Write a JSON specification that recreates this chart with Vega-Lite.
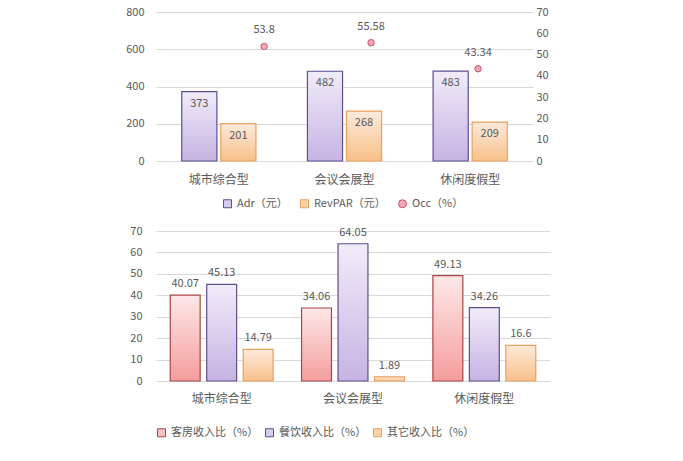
{
  "$schema": "https://vega.github.io/schema/vega-lite/v6.json",
  "background": "white",
  "padding": {"left": 125, "top": 6, "right": 10, "bottom": 5},
  "spacing": 15,
  "resolve": {
    "scale": {"color": "independent", "xOffset": "independent", "x": "independent"},
    "legend": {"color": "independent"}
  },
  "datasets": {
    "hotel": [
      {"type": "城市综合型", "series": "Adr（元）", "value": 373},
      {"type": "城市综合型", "series": "RevPAR（元）", "value": 201},
      {"type": "城市综合型", "series": "Occ（%）", "value": 53.8},
      {"type": "会议会展型", "series": "Adr（元）", "value": 482},
      {"type": "会议会展型", "series": "RevPAR（元）", "value": 268},
      {"type": "会议会展型", "series": "Occ（%）", "value": 55.58},
      {"type": "休闲度假型", "series": "Adr（元）", "value": 483},
      {"type": "休闲度假型", "series": "RevPAR（元）", "value": 209},
      {"type": "休闲度假型", "series": "Occ（%）", "value": 43.34}
    ],
    "income": [
      {"type": "城市综合型", "series": "客房收入比（%）", "value": 40.07},
      {"type": "城市综合型", "series": "餐饮收入比（%）", "value": 45.13},
      {"type": "城市综合型", "series": "其它收入比（%）", "value": 14.79},
      {"type": "会议会展型", "series": "客房收入比（%）", "value": 34.06},
      {"type": "会议会展型", "series": "餐饮收入比（%）", "value": 64.05},
      {"type": "会议会展型", "series": "其它收入比（%）", "value": 1.89},
      {"type": "休闲度假型", "series": "客房收入比（%）", "value": 49.13},
      {"type": "休闲度假型", "series": "餐饮收入比（%）", "value": 34.26},
      {"type": "休闲度假型", "series": "其它收入比（%）", "value": 16.6}
    ]
  },
  "vconcat": [
    {
      "width": 377,
      "height": 149,
      "data": {"name": "hotel"},
      "layer": [
        {
          "transform": [{"filter": "datum.series !== 'Occ（%）'"}],
          "layer": [
            {
              "mark": {"type": "bar"},
              "encoding": {
                "x": {
                  "field": "type", "type": "nominal",
                  "sort": ["城市综合型", "会议会展型", "休闲度假型"],
                  "scale": {"paddingInner": 0, "paddingOuter": 0},
                  "axis": {"title": null, "labelAngle": 0, "ticks": false, "labelPadding": 13, "labelFontSize": 12, "domainColor": "#d9d9d9"}
                },
                "xOffset": {
                  "field": "series", "type": "nominal",
                  "sort": ["Adr（元）", "RevPAR（元）"],
                  "scale": {"paddingInner": 0.1, "paddingOuter": 0.66}
                },
                "y": {
                  "field": "value", "type": "quantitative",
                  "scale": {"domain": [0, 800], "nice": false},
                  "axis": {"title": null, "values": [0, 200, 400, 600, 800], "tickCount": 5, "labelOverlap": false, "ticks": false, "domain": false, "labelPadding": 12, "gridColor": "#d9d9d9"}
                },
                "color": {
                  "field": "series", "type": "nominal",
                  "scale": {"domain": ["Adr（元）", "RevPAR（元）", "Occ（%）"], "range": ["#d8ccee", "#fbd3ab", "#f2a7b5"]},
                  "legend": {
                    "title": null, "orient": "none", "legendX": 66, "legendY": 186, "direction": "horizontal",
                    "symbolSize": 64, "columnPadding": 10, "symbolStrokeWidth": 1,
                    "encode": {
                      "symbols": {
                        "update": {
                          "shape": {"signal": "datum.value === 'Occ（%）' ? 'circle' : 'square'"},
                          "stroke": {"signal": "datum.value === 'Adr（元）' ? '#5f4f8f' : datum.value === 'RevPAR（元）' ? '#e9a15e' : '#c4566d'"}
                        }
                      }
                    }
                  }
                }
              }
            },
            {
              "mark": {"type": "bar", "strokeWidth": 1.2},
              "encoding": {
                "x": {"field": "type", "type": "nominal", "sort": ["城市综合型", "会议会展型", "休闲度假型"]},
                "xOffset": {"field": "series", "type": "nominal", "sort": ["Adr（元）", "RevPAR（元）"]},
                "y": {"field": "value", "type": "quantitative", "axis": {"title": null, "values": [0, 200, 400, 600, 800], "tickCount": 5, "labelOverlap": false, "ticks": false, "domain": false, "labelPadding": 12, "gridColor": "#d9d9d9"}},
                "fill": {
                  "condition": {
                    "test": "datum.series === 'Adr（元）'",
                    "value": {"gradient": "linear", "x1": 0, "y1": 0, "x2": 0, "y2": 1, "stops": [{"offset": 0, "color": "#f1ecf9"}, {"offset": 1, "color": "#c6b3e3"}]}
                  },
                  "value": {"gradient": "linear", "x1": 0, "y1": 0, "x2": 0, "y2": 1, "stops": [{"offset": 0, "color": "#fdeadb"}, {"offset": 1, "color": "#f8c08a"}]}
                },
                "stroke": {
                  "condition": {"test": "datum.series === 'Adr（元）'", "value": "#5f4f8f"},
                  "value": "#e9a15e"
                }
              }
            },
            {
              "mark": {"type": "text", "baseline": "top", "dy": 6, "fontSize": 11, "color": "#595959"},
              "encoding": {
                "x": {"field": "type", "type": "nominal", "sort": ["城市综合型", "会议会展型", "休闲度假型"]},
                "xOffset": {"field": "series", "type": "nominal", "sort": ["Adr（元）", "RevPAR（元）"]},
                "y": {"field": "value", "type": "quantitative", "axis": {"title": null, "values": [0, 200, 400, 600, 800], "tickCount": 5, "labelOverlap": false, "ticks": false, "domain": false, "labelPadding": 12, "gridColor": "#d9d9d9"}},
                "text": {"field": "value", "type": "nominal"}
              }
            }
          ]
        },
        {
          "transform": [{"filter": "datum.series === 'Occ（%）'"}],
          "layer": [
            {
              "mark": {"type": "point", "filled": true, "size": 42, "stroke": "#c4566d", "strokeWidth": 1, "opacity": 1},
              "encoding": {
                "x": {
                  "field": "type", "type": "nominal", "sort": ["城市综合型", "会议会展型", "休闲度假型"],
                  "scale": {"type": "point", "padding": 0.762, "align": 0.663},
                  "axis": null
                },
                "y": {
                  "field": "value", "type": "quantitative",
                  "scale": {"domain": [0, 70], "nice": false},
                  "axis": {"title": null, "orient": "right", "values": [0, 10, 20, 30, 40, 50, 60, 70], "tickCount": 8, "labelOverlap": false, "grid": false, "ticks": false, "domain": false, "labelPadding": 3}
                },
                "color": {"field": "series", "type": "nominal"}
              }
            },
            {
              "mark": {"type": "text", "baseline": "bottom", "dy": -11, "fontSize": 11, "color": "#595959"},
              "encoding": {
                "x": {"field": "type", "type": "nominal", "sort": ["城市综合型", "会议会展型", "休闲度假型"], "axis": null},
                "y": {"field": "value", "type": "quantitative", "axis": {"title": null, "orient": "right", "values": [0, 10, 20, 30, 40, 50, 60, 70], "tickCount": 8, "labelOverlap": false, "grid": false, "ticks": false, "domain": false, "labelPadding": 3}},
                "text": {"field": "value", "type": "nominal"}
              }
            }
          ]
        }
      ],
      "resolve": {"scale": {"y": "independent", "x": "independent"}}
    },
    {
      "width": 394,
      "height": 150,
      "data": {"name": "income"},
      "layer": [
        {
          "mark": {"type": "bar"},
          "encoding": {
            "x": {
              "field": "type", "type": "nominal",
              "sort": ["城市综合型", "会议会展型", "休闲度假型"],
              "scale": {"paddingInner": 0, "paddingOuter": 0},
              "axis": {"title": null, "labelAngle": 0, "ticks": false, "labelPadding": 12, "labelFontSize": 12, "domainColor": "#d9d9d9"}
            },
            "xOffset": {
              "field": "series", "type": "nominal",
              "sort": ["客房收入比（%）", "餐饮收入比（%）", "其它收入比（%）"],
              "scale": {"paddingInner": 0.18, "paddingOuter": 0.39}
            },
            "y": {
              "field": "value", "type": "quantitative",
              "scale": {"domain": [0, 70], "nice": false},
              "axis": {"title": null, "values": [0, 10, 20, 30, 40, 50, 60, 70], "tickCount": 8, "labelOverlap": false, "ticks": false, "domain": false, "labelPadding": 14, "gridColor": "#d9d9d9"}
            },
            "color": {
              "field": "series", "type": "nominal",
              "scale": {"domain": ["客房收入比（%）", "餐饮收入比（%）", "其它收入比（%）"], "range": ["#f7c4c4", "#d8ccee", "#fbd3ab"]},
              "legend": {
                "title": null, "orient": "bottom", "direction": "horizontal", "offset": 23,
                "symbolSize": 64, "columnPadding": 4, "symbolType": "square", "symbolStrokeWidth": 1, "labelFontSize": 11,
                "encode": {
                  "symbols": {
                    "update": {
                      "stroke": {"signal": "datum.value === '客房收入比（%）' ? '#a84646' : datum.value === '餐饮收入比（%）' ? '#5f4f8f' : '#e9a15e'"}
                    }
                  }
                }
              }
            }
          }
        },
        {
          "mark": {"type": "bar", "strokeWidth": 1.2},
          "encoding": {
            "x": {"field": "type", "type": "nominal", "sort": ["城市综合型", "会议会展型", "休闲度假型"]},
            "xOffset": {"field": "series", "type": "nominal", "sort": ["客房收入比（%）", "餐饮收入比（%）", "其它收入比（%）"]},
            "y": {"field": "value", "type": "quantitative", "axis": {"title": null, "values": [0, 10, 20, 30, 40, 50, 60, 70], "tickCount": 8, "labelOverlap": false, "ticks": false, "domain": false, "labelPadding": 14, "gridColor": "#d9d9d9"}},
            "fill": {
              "condition": [
                {
                  "test": "datum.series === '客房收入比（%）'",
                  "value": {"gradient": "linear", "x1": 0, "y1": 0, "x2": 0, "y2": 1, "stops": [{"offset": 0, "color": "#fde8e8"}, {"offset": 1, "color": "#f59d9d"}]}
                },
                {
                  "test": "datum.series === '餐饮收入比（%）'",
                  "value": {"gradient": "linear", "x1": 0, "y1": 0, "x2": 0, "y2": 1, "stops": [{"offset": 0, "color": "#f1ecf9"}, {"offset": 1, "color": "#c6b3e3"}]}
                }
              ],
              "value": {"gradient": "linear", "x1": 0, "y1": 0, "x2": 0, "y2": 1, "stops": [{"offset": 0, "color": "#fdeadb"}, {"offset": 1, "color": "#f8c08a"}]}
            },
            "stroke": {
              "condition": [
                {"test": "datum.series === '客房收入比（%）'", "value": "#a84646"},
                {"test": "datum.series === '餐饮收入比（%）'", "value": "#5f4f8f"}
              ],
              "value": "#e9a15e"
            }
          }
        },
        {
          "mark": {"type": "text", "baseline": "bottom", "dy": -6, "fontSize": 11, "color": "#595959"},
          "encoding": {
            "x": {"field": "type", "type": "nominal", "sort": ["城市综合型", "会议会展型", "休闲度假型"]},
            "xOffset": {"field": "series", "type": "nominal", "sort": ["客房收入比（%）", "餐饮收入比（%）", "其它收入比（%）"]},
            "y": {"field": "value", "type": "quantitative", "axis": {"title": null, "values": [0, 10, 20, 30, 40, 50, 60, 70], "tickCount": 8, "labelOverlap": false, "ticks": false, "domain": false, "labelPadding": 14, "gridColor": "#d9d9d9"}},
            "text": {"field": "value", "type": "nominal"}
          }
        }
      ]
    }
  ],
  "config": {
    "font": "Noto Sans CJK SC",
    "view": {"stroke": null},
    "axis": {"labelColor": "#595959", "labelFontSize": 11, "labelFont": "Noto Sans CJK SC"},
    "legend": {"labelColor": "#595959", "labelFontSize": 11, "labelFont": "Noto Sans CJK SC"}
  }
}
